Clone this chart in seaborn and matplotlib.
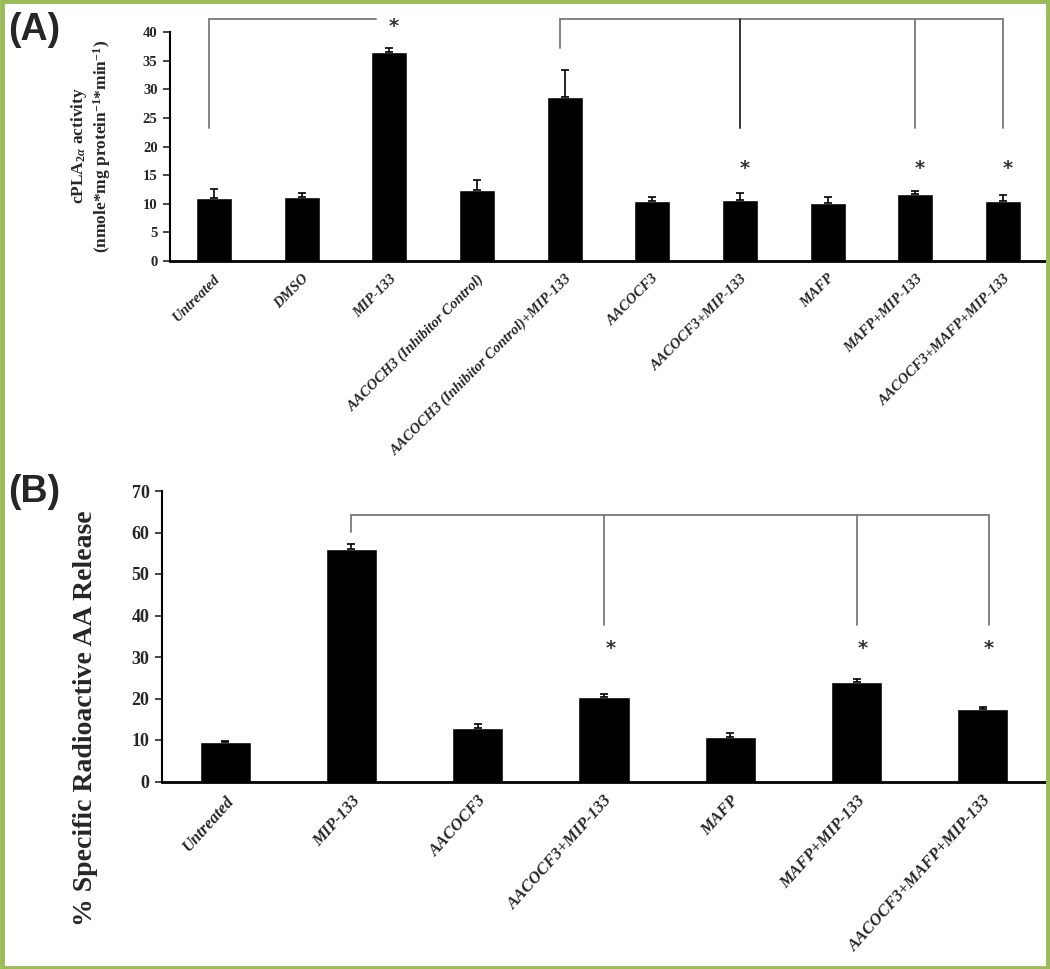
import matplotlib
matplotlib.use("Agg")
import matplotlib.pyplot as plt
import seaborn as sns
import pandas as pd
import numpy as np
from matplotlib.patches import Rectangle

# ---------------- data ----------------
cats_a = ["Untreated", "DMSO", "MIP-133", "AACOCH3 (Inhibitor Control)",
          "AACOCH3 (Inhibitor Control)+MIP-133", "AACOCF3", "AACOCF3+MIP-133",
          "MAFP", "MAFP+MIP-133", "AACOCF3+MAFP+MIP-133"]
vals_a = [11.0, 11.2, 36.5, 12.4, 28.7, 10.5, 10.7, 10.2, 11.7, 10.5]
err_a = [1.5, 0.6, 0.7, 1.7, 4.6, 0.7, 1.2, 1.0, 0.6, 1.0]

cats_b = ["Untreated", "MIP-133", "AACOCF3", "AACOCF3+MIP-133", "MAFP",
          "MAFP+MIP-133", "AACOCF3+MAFP+MIP-133"]
vals_b = [9.4, 56.0, 13.0, 20.4, 10.7, 24.0, 17.5]
err_b = [0.3, 1.3, 0.8, 0.8, 0.9, 0.8, 0.4]

yticks_a = [0, 5, 10, 15, 20, 25, 30, 35, 40]
yticks_b = [0, 10, 20, 30, 40, 50, 60, 70]

# ---------------- style ----------------
sns.set_style("white")
plt.rcParams["font.family"] = ["Liberation Serif", "DejaVu Serif"]
plt.rcParams["mathtext.fontset"] = "custom"
plt.rcParams["mathtext.rm"] = "Liberation Serif:bold"
plt.rcParams["mathtext.bf"] = "Liberation Serif:bold"
plt.rcParams["mathtext.it"] = "Liberation Serif:bold:italic"

W, H = 1050, 969
fig = plt.figure(figsize=(W / 100, H / 100), dpi=100)
fig.patch.set_facecolor("white")

def fx(px):
    return px / W

def fy(py):
    return 1 - py / H

ax1 = fig.add_axes([fx(170), fy(261), fx(1047) - fx(170), fy(32) - fy(261)])
ax2 = fig.add_axes([fx(162), fy(781.5), fx(1046) - fx(162), fy(491) - fy(781.5)])

df_a = pd.DataFrame({"cat": cats_a, "val": vals_a})
df_b = pd.DataFrame({"cat": cats_b, "val": vals_b})

sns.barplot(data=df_a, x="cat", y="val", color="black", width=0.41,
            errorbar=None, ax=ax1, saturation=1)
sns.barplot(data=df_b, x="cat", y="val", color="black", width=0.405,
            errorbar=None, ax=ax2, saturation=1)

for ax, vals, errs in [(ax1, vals_a, err_a), (ax2, vals_b, err_b)]:
    x = np.arange(len(vals))
    ax.errorbar(x, vals, yerr=[np.zeros(len(errs)), errs], fmt="none",
                ecolor="black", elinewidth=1.2, capsize=3, capthick=1.2, zorder=3)

ax1.set_xlim(-0.5, len(cats_a) - 0.5)
ax1.set_ylim(0, 40)
ax2.set_xlim(-0.5, len(cats_b) - 0.5)
ax2.set_ylim(0, 70)
ax1.set_yticks(yticks_a)
ax2.set_yticks(yticks_b)

for ax, ts, ls, rot in [(ax1, 10.5, 10.5, 45), (ax2, 13, 12, 48)]:
    sns.despine(ax=ax)
    ax.spines["left"].set_linewidth(1.5)
    ax.spines["bottom"].set_linewidth(2.0)
    ax.spines["left"].set_color("black")
    ax.spines["bottom"].set_color("black")
    ax.set_xlabel("")
    ax.set_ylabel("")
    ax.tick_params(axis="y", direction="out", length=5, width=1.2, left=True,
                   labelsize=ts, pad=4)
    ax.tick_params(axis="x", length=0, pad=8)
    for lab in ax.get_yticklabels():
        lab.set_fontweight("bold")
    ax.set_xticks(ax.get_xticks())
    ax.set_xticklabels([t.get_text() for t in ax.get_xticklabels()], rotation=rot,
                       ha="right", rotation_mode="anchor", fontsize=ls,
                       fontweight="bold", fontstyle="italic")
    ax.set_facecolor("white")

# ---------------- brackets ----------------
gray = "#7a7a7a"
lw = 1.3

def bracket(ax, xs, top, drops, color=gray):
    ax.plot([xs[0], xs[-1]], [top, top], color=color, lw=lw, clip_on=False, zorder=4)
    for xx, yy in zip(xs, drops):
        ax.plot([xx, xx], [top, yy], color=color, lw=lw, clip_on=False, zorder=4)

def star(ax, x, y, size):
    ax.text(x + 0.05, y, "*", ha="center", va="center", fontsize=size,
            fontweight="bold", color="#333333", clip_on=False,
            family="DejaVu Sans")

# Panel A
bracket(ax1, [-0.05, 1.85], 42.3, [23.3, 42.3])
star(ax1, 2.0, 41.0, 14)
bracket(ax1, [3.95, 6.0, 8.0, 9.0], 42.3, [37.2, 23.3, 23.3, 23.3])
ax1.plot([6.0, 6.0], [42.3, 23.3], color="#333333", lw=lw, clip_on=False, zorder=5)
for xx in [6, 8, 9]:
    star(ax1, xx, 16.2, 14)

# Panel B
bracket(ax2, [1.0, 3.0, 5.0, 6.05], 64.2, [60.2, 37.7, 37.7, 37.7])
for xx in [3, 5, 6]:
    star(ax2, xx, 32.0, 14)

# ---------------- labels ----------------
fig.text(fx(91), fy(146),
         "cPLA$_{2\\alpha}$ activity\n(nmole*mg protein$^{-1}$*min$^{-1}$)",
         rotation=90, ha="center", va="center", fontsize=12.5,
         fontweight="bold", linespacing=1.1)
fig.text(fx(86), fy(718), "% Specific Radioactive AA Release", rotation=90,
         ha="center", va="center", fontsize=20, fontweight="bold")

fig.text(fx(8), fy(30), "(A)", ha="left", va="center", fontsize=27,
         fontweight="bold", family="Liberation Sans")
fig.text(fx(8), fy(492), "(B)", ha="left", va="center", fontsize=27,
         fontweight="bold", family="Liberation Sans")

# green frame
fig.patches.append(Rectangle((0.0015, 0.0015), 0.997, 0.997, transform=fig.transFigure,
                             fill=False, edgecolor="#9BBB59", linewidth=3.5))

fig.savefig("out.png", dpi=100, facecolor="white")
